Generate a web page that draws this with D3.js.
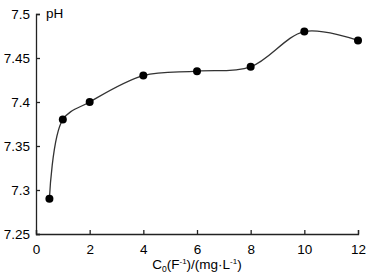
<!DOCTYPE html>
<html><head><meta charset="utf-8">
<script src="https://cdn.jsdelivr.net/npm/d3@7"></script>
<style>body{margin:0;background:#fff}svg{display:block}text{font-family:"Liberation Sans",Arial,sans-serif;fill:#000}</style>
</head><body>
<svg id="c" width="369" height="275"></svg>
<script>
const xValues = [0.5, 1, 2, 4, 6, 8, 10, 12];
const phValues = [7.29, 7.38, 7.40, 7.43, 7.435, 7.44, 7.48, 7.47];
const xTicks = [0, 2, 4, 6, 8, 10, 12];
const yTicks = [7.25, 7.3, 7.35, 7.4, 7.45, 7.5];

const svg = d3.select("#c");
const x = d3.scaleLinear().domain([0, 12]).range([36, 358]);
const y = d3.scaleLinear().domain([7.25, 7.5]).range([234, 14]);

const ax = svg.append("g").attr("transform", "translate(0,234)")
  .call(d3.axisBottom(x).tickValues(xTicks).tickSizeInner(-4).tickSizeOuter(-4).tickPadding(9).tickFormat(d3.format("d")));
const ay = svg.append("g").attr("transform", "translate(36,0)")
  .call(d3.axisLeft(y).tickValues(yTicks).tickSizeInner(-4).tickSizeOuter(-4).tickPadding(6).tickFormat(d => String(+d.toFixed(2))));
[ax, ay].forEach(g => {
  g.selectAll("path,line").attr("stroke", "#222").attr("stroke-width", 1.3);
  g.selectAll("text").style("font-size", "13.5px").style("font-family", "Liberation Sans, Arial, sans-serif");
});
ax.selectAll("text").attr("dy", "0.85em");

const data = xValues.map((v, i) => [v, phValues[i]]);
svg.append("path").datum(data)
  .attr("fill", "none").attr("stroke", "#333").attr("stroke-width", 1.3)
  .attr("d", d3.line().x(d => x(d[0])).y(d => y(d[1])).curve(d3.curveCatmullRom.alpha(0.5)));
svg.selectAll("circle.pt").data(data).enter().append("circle")
  .attr("cx", d => x(d[0])).attr("cy", d => y(d[1])).attr("r", 4).attr("fill", "#000");

svg.append("text").attr("x", 46).attr("y", 18).style("font-size", "13.5px").text("pH");

const t = svg.append("text").attr("x", 197).attr("y", 269).attr("text-anchor", "middle").style("font-size", "13.5px");
t.append("tspan").text("C");
t.append("tspan").attr("dy", 2.5).style("font-size", "8.5px").text("0");
t.append("tspan").attr("dy", -2.5).text("(F");
t.append("tspan").attr("dy", -5).style("font-size", "8px").text("-1");
t.append("tspan").attr("dy", 5).text(")/(mg·L");
t.append("tspan").attr("dy", -5).style("font-size", "8px").text("-1");
t.append("tspan").attr("dy", 5).text(")");
</script>
</body></html>
